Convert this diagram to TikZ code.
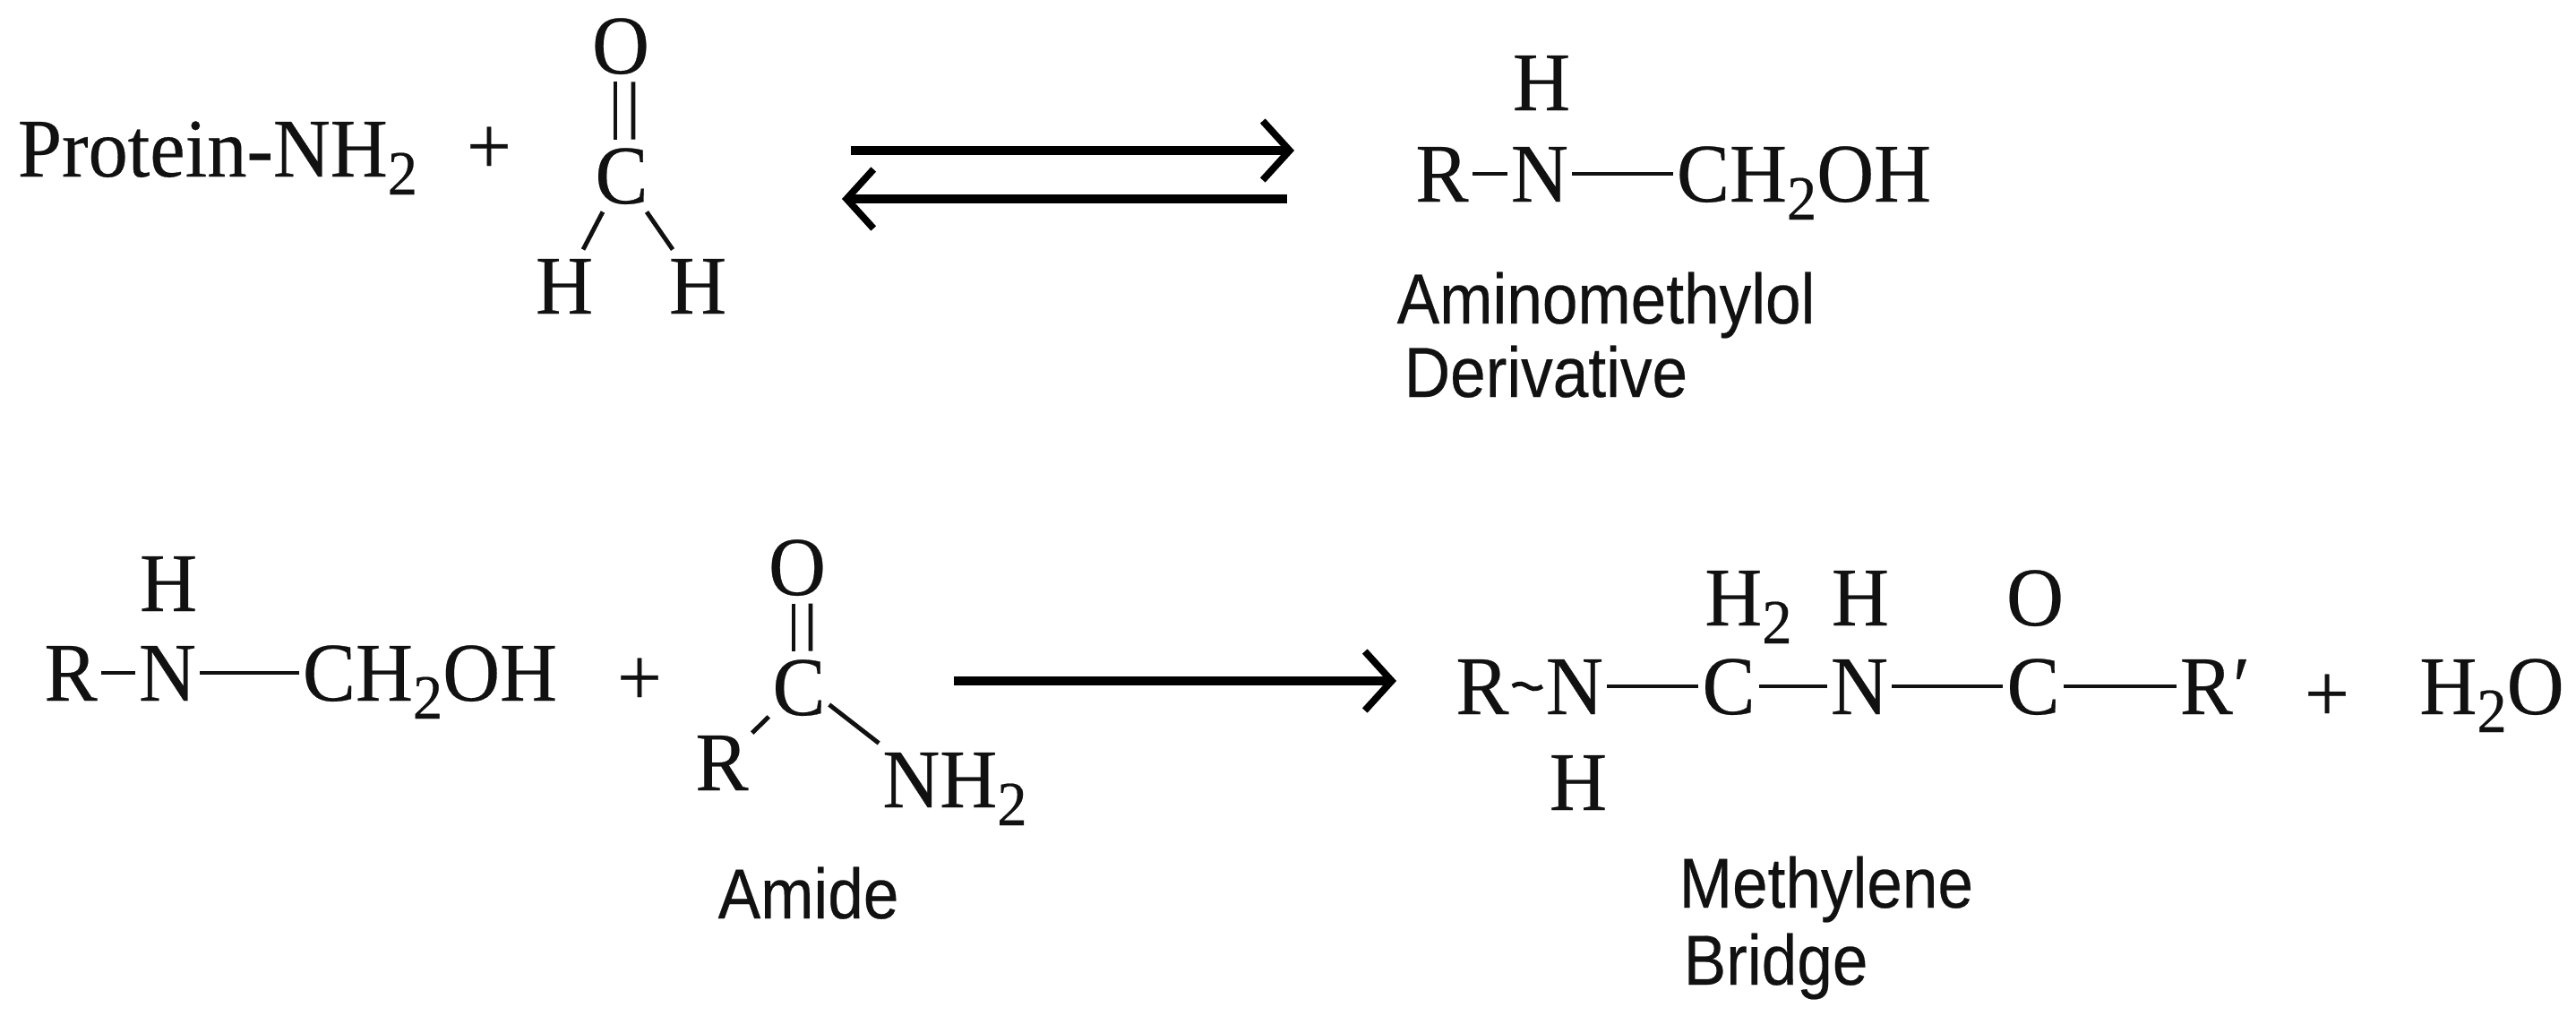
\documentclass[tikz,border=0pt]{standalone}
\usepackage{fontspec}
\usepackage{xcolor}
\usepackage{tikz}
\usetikzlibrary{arrows.meta}
\setmainfont[FakeStretch=0.95,FakeBold=0.3]{Liberation Serif}
\setsansfont[FakeStretch=0.90,FakeBold=0.3]{Liberation Sans}
\definecolor{ink}{HTML}{111111}
\newcommand{\lowtwo}{\raisebox{-5.7pt}{\fontsize{20}{20}\selectfont 2}}
\tikzset{
  lab/.style={text=ink, font=\fontsize{26.5}{30}\selectfont, inner sep=0pt},
  atom/.style={lab, text height=0.62cm, text depth=0pt, inner xsep=1pt, inner ysep=2.5pt},
  labs/.style={text=ink, font=\sffamily\fontsize{22.5}{26}\selectfont, inner sep=0pt, anchor=base west},
  bond/.style={draw=ink, line width=1.4pt},
  rxn/.style={draw=black, line width=2.9pt, -{Straight Barb[length=3mm,width=6.6mm,line width=2.2pt]}},
}
\begin{document}
\begin{tikzpicture}
\useasboundingbox (0,0) rectangle (28.76,11.33);
\fill[white] (0,0) rectangle (28.76,11.33);

\node[atom] (prot) at (2.43,9.67) {Protein-NH\lowtwo};
\node[lab] (plusa) at (5.46,9.65) {+};
\node[atom] (oa) at (6.93,10.82) {O};
\node[atom] (ca) at (6.94,9.37) {C};
\node[atom] (hal) at (6.30,8.14) {H};
\node[atom] (har) at (7.79,8.14) {H};
\draw[bond] ([xshift=-0.06cm]oa.south) -- ([xshift=-0.07cm]ca.north);
\draw[bond] ([xshift=0.14cm]oa.south) -- ([xshift=0.13cm]ca.north);
\draw[bond] (ca) -- (hal);
\draw[bond] (ca) -- (har);

\coordinate (fwda) at (9.50,9.65);
\coordinate (fwdb) at (14.45,9.65);
\coordinate (reva) at (14.37,9.11);
\coordinate (revb) at (9.40,9.11);
\draw[rxn] (fwda) -- (fwdb);
\draw[rxn] (reva) -- (revb);

\node[atom] (hb) at (17.21,10.41) {H};
\node[atom] (rb) at (16.10,9.39) {R};
\node[atom] (nb) at (17.19,9.39) {N};
\node[atom] (chb) at (20.14,9.39) {CH\lowtwo OH};
\draw[bond] (rb) -- (nb);
\draw[bond] (nb) -- (chb);
\node[labs] (amino) at (15.59,7.72) {Aminomethylol};
\node[labs] (deriv) at (15.67,6.90) {Derivative};

\node[atom] (hc) at (1.88,4.82) {H};
\node[atom] (rc) at (0.79,3.82) {R};
\node[atom] (nc) at (1.87,3.82) {N};
\node[atom] (chc) at (4.80,3.82) {CH\lowtwo OH};
\draw[bond] (rc) -- (nc);
\draw[bond] (nc) -- (chc);
\node[lab] (plusb) at (7.14,3.72) {+};

\node[atom] (od) at (8.90,5.00) {O};
\node[atom] (cd) at (8.92,3.66) {C};
\node[atom] (rd) at (8.06,2.82) {R};
\node[atom] (nd) at (10.66,2.63) {NH\lowtwo};
\draw[bond] ([xshift=-0.04cm]od.south) -- ([xshift=-0.06cm]cd.north);
\draw[bond] ([xshift=0.15cm]od.south) -- ([xshift=0.13cm]cd.north);
\draw[bond] (cd) -- (rd);
\draw[bond] (cd.-30) -- (nd.north west);
\node[labs] (amide) at (8.01,1.08) {Amide};

\coordinate (maina) at (10.65,3.73);
\coordinate (mainb) at (15.59,3.73);
\draw[rxn] (maina) -- (mainb);

\node[atom] (re) at (16.55,3.67) {R};
\node[atom] (ne) at (17.58,3.67) {N};
\node[atom] (ce) at (19.30,3.67) {C};
\node[atom] (nf) at (20.76,3.67) {N};
\node[atom] (cf) at (22.70,3.67) {C};
\node[atom] (rf) at (24.73,3.67) {R′};
\node[lab] (plusc) at (25.98,3.54) {+};
\node[atom] (water) at (27.82,3.67) {H\lowtwo O};
\node[atom] (he) at (17.62,2.60) {H};
\node[atom] (hce) at (19.52,4.66) {H\lowtwo};
\node[atom] (hf) at (20.77,4.66) {H};
\node[atom] (of) at (22.72,4.66) {O};
\draw[bond] (re.east) .. controls +(0.16,0.10) and +(-0.16,-0.10) .. (ne.west);
\draw[bond] (ne) -- (ce);
\draw[bond] (ce) -- (nf);
\draw[bond] (nf) -- (cf);
\draw[bond] (cf) -- (rf);
\node[labs] (methyl) at (18.74,1.20) {Methylene};
\node[labs] (bridge) at (18.79,0.34) {Bridge};
\end{tikzpicture}
\end{document}
